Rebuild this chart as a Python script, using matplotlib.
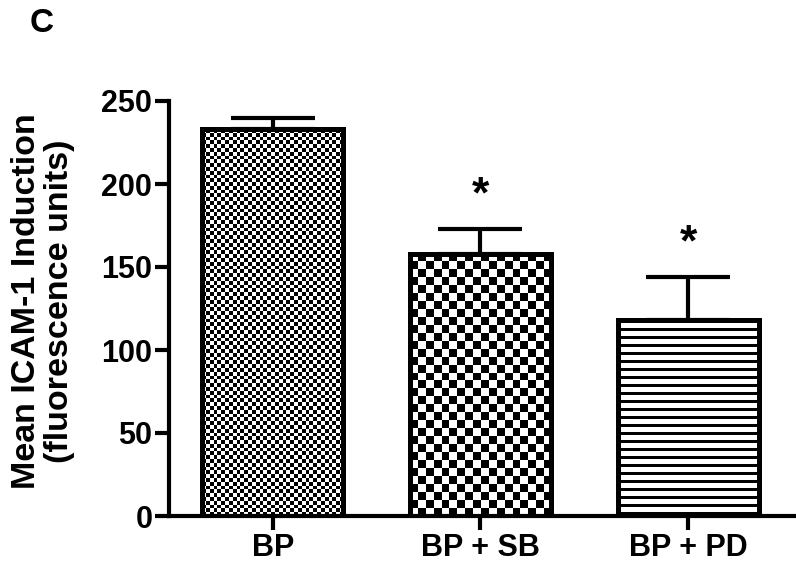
import matplotlib
matplotlib.use("Agg")
import matplotlib.pyplot as plt
import numpy as np

# data
groups = ["BP", "BP + SB", "BP + PD"]
means = [233, 158, 118]
sems = [7, 15, 26]
signif = ["", "*", "*"]
yticks = [0, 50, 100, 150, 200, 250]

plt.rcParams["font.family"] = ["Liberation Sans", "DejaVu Sans"]
plt.rcParams["font.weight"] = "bold"


def pattern(kind, nx, ny):
    """0/1 texture array for the bar fill"""
    j, i = np.indices((ny, nx))
    if kind == "stripes":
        return ((j % 8) < 3).astype(float)
    return ((i + j) % 2).astype(float)


fig = plt.figure(figsize=(7.96, 5.64), dpi=100)
ax = fig.add_axes([169 / 796, 1 - 516 / 564, 625 / 796, 415 / 564])

x = np.arange(len(groups))
width = 0.68
bars = ax.bar(x, means, width, color="none", edgecolor="black", linewidth=3.6, zorder=3)
ax.errorbar(x, means, yerr=[np.zeros(len(sems)), sems], fmt="none", ecolor="black",
            elinewidth=3, capsize=30, capthick=3, zorder=2)

# textures, sized in pixels
px_x = 625 / 3.01
px_y = 415 / 250
kinds = ["fine", "coarse", "stripes"]
cells = [3.8, 8.0, 1.0]
for b, kind, c in zip(bars, kinds, cells):
    x0, w, h = b.get_x(), b.get_width(), b.get_height()
    nx = max(1, int(round(w * px_x / c)))
    ny = max(1, int(round(h * px_y / c)))
    arr = pattern(kind, nx, ny)
    im = ax.imshow(arr, cmap="gray_r", vmin=0, vmax=1, extent=(x0, x0 + w, 0, h),
                   aspect="auto", interpolation="nearest", origin="upper", zorder=2.5)
    im.set_clip_path(b)

ax.set_xlim(-0.5, 2.51)
ax.set_ylim(0, 250)

for xi, m, s, t in zip(x, means, sems, signif):
    if t:
        ax.text(xi, m + s + 20, t, ha="center", va="center", fontsize=32, fontweight="bold")

ax.spines["top"].set_visible(False)
ax.spines["right"].set_visible(False)
ax.spines["left"].set_linewidth(3)
ax.spines["bottom"].set_linewidth(3)
ax.set_yticks(yticks)
ax.set_xticks(x)
ax.set_xticklabels(groups)
ax.tick_params(axis="both", width=3, length=10, labelsize=22, pad=2)
ax.set_ylabel("Mean ICAM-1 Induction\n(fluorescence units)", fontsize=24.5,
              fontweight="bold", linespacing=1.1)
ax.yaxis.set_label_coords(-0.15, 0.518)

fig.text(42 / 796, 1 - 23 / 564, "C", fontsize=24, fontweight="bold", ha="center", va="center")

fig.savefig("out.png", dpi=100)
